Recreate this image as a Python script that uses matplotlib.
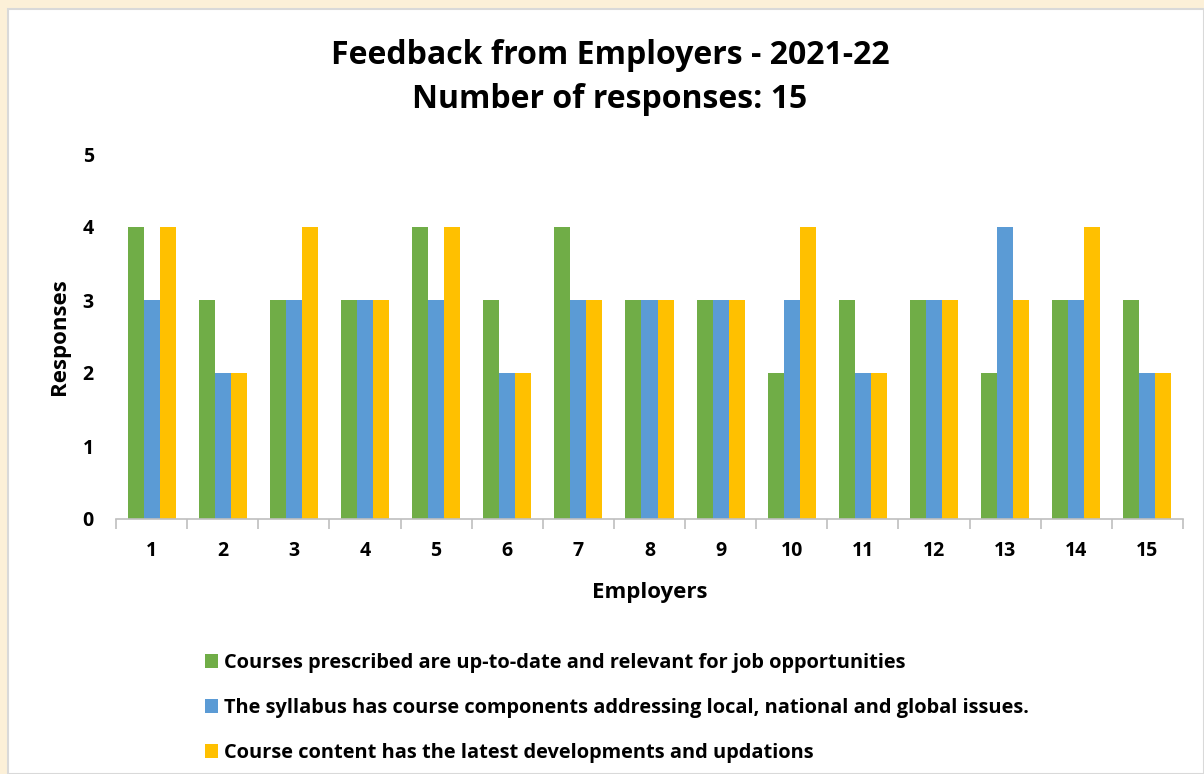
import matplotlib
matplotlib.use("Agg")
import matplotlib.pyplot as plt
from matplotlib.patches import Rectangle
import numpy as np

employers = [str(i) for i in range(1, 16)]
series_names = [
    "Courses prescribed are up-to-date and relevant for job opportunities",
    "The syllabus has course components addressing local, national and global issues.",
    "Course content has the latest developments and updations",
]
up_to_date = [4, 3, 3, 3, 4, 3, 4, 3, 3, 2, 3, 3, 2, 3, 3]
syllabus = [3, 2, 3, 3, 3, 2, 3, 3, 3, 3, 2, 3, 4, 3, 2]
content = [4, 2, 4, 3, 4, 2, 3, 3, 3, 4, 2, 3, 3, 4, 2]
colors = ["#70AD47", "#5B9BD5", "#FFC000"]

plt.rcParams['font.family'] = ['Open Sans', 'DejaVu Sans']
plt.rcParams['font.weight'] = 'bold'

W, H = 1204, 774
fig = plt.figure(figsize=(W / 100, H / 100), dpi=100)
fig.patch.set_facecolor("#FCF0D8")

# white chart panel
panel = Rectangle((8 / W, 0), (W - 8) / W, (H - 9) / H, transform=fig.transFigure,
                  facecolor="white", edgecolor="#D9D9D9", linewidth=1.5, zorder=-5)
fig.patches.append(panel)

ax = fig.add_axes([116 / W, (H - 519) / H, (1183 - 116) / W, (519 - 154) / H])
ax.set_facecolor("none")
ax.set_zorder(2)

x = np.arange(len(employers))
bw = 0.225
for i, (vals, name) in enumerate(zip([up_to_date, syllabus, content], series_names)):
    ax.bar(x + (i - 1) * bw, vals, width=bw, color=colors[i], label=name, zorder=2)

ax.set_xlim(-0.5, len(employers) - 0.5)
ax.set_ylim(0, 5)
ax.set_yticks(range(0, 6))
ax.set_xticks(x)
ax.set_xticklabels(employers)
ax.set_xticks(np.arange(-0.5, len(employers), 1.0), minor=True)
ax.tick_params(axis='x', which='major', length=0, pad=16, labelsize=14)
ax.tick_params(axis='x', which='minor', length=7, color="#BFBFBF", width=1.2, direction='out')
ax.tick_params(axis='y', length=0, pad=16, labelsize=14)
for lbl in ax.get_xticklabels() + ax.get_yticklabels():
    lbl.set_fontweight('bold')

for s in ['top', 'right', 'left']:
    ax.spines[s].set_visible(False)
ax.spines['bottom'].set_color("#BFBFBF")
ax.spines['bottom'].set_linewidth(1.2)

ax.set_xlabel("Employers", fontsize=16, fontweight='bold', labelpad=15)
ax.set_ylabel("Responses", fontsize=16, fontweight='bold', labelpad=9)

fig.text(610 / W, 1 - 56 / H, "Feedback from Employers - 2021-22", ha='center', va='center',
         fontsize=23, fontweight='bold')
fig.text(610 / W, 1 - 99 / H, "Number of responses: 15", ha='center', va='center',
         fontsize=23, fontweight='bold')

handles, labels = ax.get_legend_handles_labels()
leg = fig.legend(handles, labels, loc='upper left', bbox_to_anchor=(187 / W, 1 - 635 / H),
                 frameon=False, ncol=1, fontsize=14.4, labelspacing=1.25,
                 handlelength=0.65, handleheight=0.65, handletextpad=0.3)
for t in leg.get_texts():
    t.set_fontweight('bold')

fig.savefig("out.png", dpi=100, facecolor=fig.get_facecolor())
